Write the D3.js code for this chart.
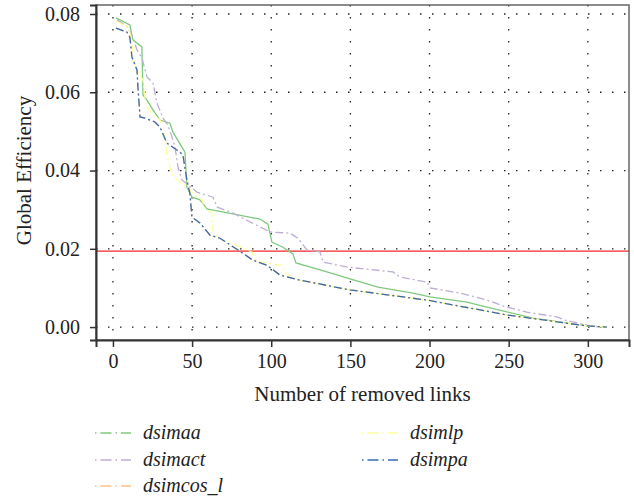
<!doctype html>
<html lang="en">
<head>
<meta charset="UTF-8">
<title>Global Efficiency</title>
<script src="https://cdn.jsdelivr.net/npm/d3@7"></script>
<style>
    body { margin: 0; background: #fff; }
    svg text { font-family: "Liberation Serif", "Times New Roman", serif !important; fill: #222; }
    .grid line { stroke: #222; stroke-width: 1.3; stroke-dasharray: 1.5 10.5; }
    .axis text { font-size: 20px; }
    .axis line, .axis path { stroke: #333; }
</style>
</head>
<body>
<div id="chart"></div>
<script>
// values
const xTicks = [0, 50, 100, 150, 200, 250, 300];
const yTicks = [0, 0.02, 0.04, 0.06, 0.08];
const threshold = 0.0194;

const dsimaaX = [1.9, 10.7, 12.6, 18.3, 19.0, 21.5, 25.3, 29.7, 36.0, 37.9, 43.6, 45.5, 46.7, 49.9, 55.0, 59.4, 92.9, 97.9, 100.4, 107.4, 113.7, 115.6, 135.2, 149.7, 167.4, 189.5, 200.3, 223.6, 238.2, 265.3, 299.4, 312];
const dsimaaY = [0.0790, 0.0772, 0.0734, 0.0716, 0.0593, 0.0580, 0.0555, 0.0529, 0.0521, 0.0498, 0.0460, 0.0447, 0.0358, 0.0332, 0.0325, 0.0302, 0.0276, 0.0263, 0.0217, 0.0204, 0.0187, 0.0164, 0.0141, 0.0123, 0.0102, 0.0087, 0.0077, 0.0064, 0.0049, 0.0023, 0.0003, 0.0];

const dsimactX = [2.5, 8.8, 12.0, 15.2, 18.3, 21.5, 25.3, 27.8, 31.6, 34.7, 37.3, 39.2, 41.1, 43.6, 53.1, 63.2, 65.7, 75.8, 92.9, 99.2, 111.8, 116.9, 122.6, 130.8, 132.7, 148.4, 176.9, 181.3, 198.4, 200.3, 219.2, 236.3, 246.4, 261.5, 280.5, 285.5, 299.4, 307.6];
const dsimactY = [0.0785, 0.0769, 0.0746, 0.0708, 0.0688, 0.0639, 0.0624, 0.0573, 0.0534, 0.0516, 0.0486, 0.0460, 0.0409, 0.0376, 0.0345, 0.0332, 0.0307, 0.0291, 0.0256, 0.0243, 0.0240, 0.0227, 0.0197, 0.0192, 0.0166, 0.0153, 0.0141, 0.0128, 0.0115, 0.0100, 0.0087, 0.0069, 0.0054, 0.0038, 0.0026, 0.0018, 0.0005, 0.0];

const dsimcosX = [1.9, 8.8, 10.7, 12.0, 15.2, 15.8, 17.1, 20.2, 26.5, 29.7, 34.1, 42.3, 44.2, 46.7, 48.6, 49.9, 55.0, 61.3, 67.6, 79.0, 88.4, 97.3, 105.5, 118.1, 149.7, 198.4, 248.9, 299.4, 312];
const dsimcosY = [0.0764, 0.0754, 0.0741, 0.0690, 0.0657, 0.0613, 0.0537, 0.0534, 0.0524, 0.0511, 0.0470, 0.0447, 0.0440, 0.0376, 0.0342, 0.0281, 0.0266, 0.0235, 0.0227, 0.0197, 0.0171, 0.0158, 0.0133, 0.0120, 0.0095, 0.0069, 0.0031, 0.0003, 0.0];

const dsimlpX = [1.9, 9.5, 12.0, 12.6, 15.2, 19.0, 20.2, 21.5, 25.3, 29.7, 31.6, 32.8, 34.7, 37.3, 42.3, 47.4, 50.5, 56.2, 58.1, 62.5, 63.2, 65.7, 73.9, 82.1, 87.8, 89.7, 92.9, 106.8, 108.7, 113.7, 118.1, 149.7, 198.4, 248.9, 299.4, 312];
const dsimlpY = [0.0782, 0.0767, 0.0734, 0.0690, 0.0657, 0.0631, 0.0588, 0.0562, 0.0542, 0.0529, 0.0516, 0.0478, 0.0427, 0.0389, 0.0371, 0.0358, 0.0342, 0.0325, 0.0304, 0.0291, 0.0248, 0.0230, 0.0215, 0.0202, 0.0192, 0.0171, 0.0166, 0.0158, 0.0138, 0.0128, 0.0120, 0.0095, 0.0069, 0.0031, 0.0003, 0.0];

const dsimpaX = [1.9, 8.8, 10.7, 12.0, 15.2, 15.8, 17.1, 20.2, 26.5, 29.7, 34.1, 42.3, 44.2, 46.7, 48.6, 49.9, 55.0, 61.3, 67.6, 79.0, 88.4, 97.3, 105.5, 118.1, 149.7, 198.4, 248.9, 299.4, 312];
const dsimpaY = [0.0764, 0.0754, 0.0741, 0.0690, 0.0657, 0.0613, 0.0537, 0.0534, 0.0524, 0.0511, 0.0470, 0.0447, 0.0440, 0.0376, 0.0342, 0.0281, 0.0266, 0.0235, 0.0227, 0.0197, 0.0171, 0.0158, 0.0133, 0.0120, 0.0095, 0.0069, 0.0031, 0.0003, 0.0];

const seriesNames = ["dsimaa", "dsimact", "dsimcos_l", "dsimlp", "dsimpa"];
const seriesColors = ["#7fc97f", "#beaed4", "#fdc086", "#ffff99", "#386cb0"];

const series = [
    { name: seriesNames[0], xs: dsimaaX, ys: dsimaaY, dash: null },
    { name: seriesNames[1], xs: dsimactX, ys: dsimactY, dash: "8 3 2 3" },
    { name: seriesNames[2], xs: dsimcosX, ys: dsimcosY, dash: "8 3 2 3" },
    { name: seriesNames[3], xs: dsimlpX, ys: dsimlpY, dash: "8 3 2 3" },
    { name: seriesNames[4], xs: dsimpaX, ys: dsimpaY, dash: "8 3 2 3" }
];

const W = 634, H = 504;
const margin = { top: 5, right: 5, bottom: 164, left: 96 };
const innerW = W - margin.left - margin.right;
const innerH = H - margin.top - margin.bottom;

const svg = d3.select("#chart").append("svg")
    .attr("width", W)
    .attr("height", H);

const g = svg.append("g")
    .attr("transform", "translate(" + margin.left + "," + margin.top + ")");

const x = d3.scaleLinear().domain([-10.7, 326]).range([0, innerW]);
const y = d3.scaleLinear().domain([-0.0033, 0.0823]).range([innerH, 0]);

// dotted grid
const grid = g.append("g").attr("class", "grid");
grid.selectAll(".gx").data(xTicks).enter().append("line")
    .attr("x1", d => x(d)).attr("x2", d => x(d))
    .attr("y1", 0).attr("y2", innerH);
grid.selectAll(".gy").data(yTicks).enter().append("line")
    .attr("x1", 0).attr("x2", innerW)
    .attr("y1", d => y(d)).attr("y2", d => y(d));

// threshold line
g.append("line")
    .attr("x1", 0).attr("x2", innerW)
    .attr("y1", y(threshold)).attr("y2", y(threshold))
    .attr("stroke", "#f02828").attr("stroke-width", 1.4);

// curves
const line = d3.line()
    .x(d => x(d[0]))
    .y(d => y(d[1]));

series.forEach((s, i) => {
    const pts = s.xs.map((v, k) => [v, s.ys[k]]);
    g.append("path")
        .datum(pts)
        .attr("fill", "none")
        .attr("stroke", seriesColors[i])
        .attr("stroke-width", 1.3)
        .attr("stroke-dasharray", s.dash)
        .attr("d", line);
});

// frame
g.append("rect")
    .attr("width", innerW).attr("height", innerH)
    .attr("fill", "none").attr("stroke", "#666").attr("stroke-width", 1.5);

// axes
const xAxis = g.append("g").attr("class", "axis")
    .attr("transform", "translate(0," + innerH + ")")
    .call(d3.axisBottom(x).tickValues(xTicks).tickSize(7).tickPadding(7));
const yAxis = g.append("g").attr("class", "axis")
    .call(d3.axisLeft(y).tickValues(yTicks).tickFormat(d3.format(".2f")).tickSize(6).tickPadding(10));
[xAxis, yAxis].forEach(a => {
    a.attr("font-family", null);
    a.select(".domain").attr("stroke-width", 2);
    a.selectAll(".tick line").attr("stroke-width", 1.5);
});

// axis titles
svg.append("text")
    .attr("x", margin.left + innerW / 2).attr("y", 401)
    .attr("text-anchor", "middle")
    .attr("font-size", 21)
    .text("Number of removed links");

svg.append("text")
    .attr("transform", "translate(31," + (margin.top + y(0.04)) + ") rotate(-90)")
    .attr("text-anchor", "middle")
    .attr("font-size", 21)
    .text("Global Efficiency");

// legend, two columns
const legendPos = [[95, 433], [95, 460], [95, 486], [362, 433], [362, 460]];
const legend = svg.append("g");
seriesNames.forEach((name, i) => {
    const [lx, ly] = legendPos[i];
    legend.append("line")
        .attr("x1", lx).attr("x2", lx + 36)
        .attr("y1", ly).attr("y2", ly)
        .attr("stroke", seriesColors[i]).attr("stroke-width", 1.5)
        .attr("stroke-dasharray", "1.5 4 11 4");
    legend.append("text")
        .attr("x", lx + 48).attr("y", ly + 6)
        .attr("font-size", 20).attr("font-style", "italic")
        .text(name);
});
</script>
</body>
</html>
